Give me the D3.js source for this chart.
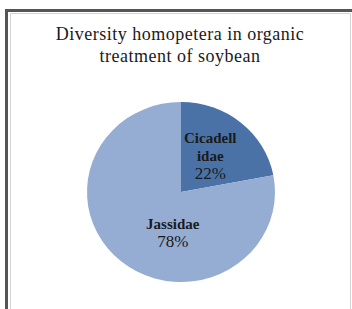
<!DOCTYPE html>
<html>
<head>
<meta charset="utf-8">
<script src="https://cdn.jsdelivr.net/npm/d3@7"></script>
<style>
  body { margin: 0; background: #fff; }
  svg { display: block; }
  text { font-family: "Liberation Serif", "Times New Roman", serif; fill: #1a1a1a; }
</style>
</head>
<body>
<div id="chart"></div>
<script>
const titleLines = ["Diversity homopetera in organic", "treatment of soybean"];
const families = ["Cicadell\nidae", "Jassidae"];
const shares = [22, 78];
const colors = ["#4a72a6", "#95acd3"];

const width = 352, height = 309;
const cx = 181, cy = 192;
const rx = 94, ry = 90;

const svg = d3.select("#chart").append("svg")
    .attr("width", width)
    .attr("height", height);

// frame
svg.append("path")
    .attr("d", "M6.5,309 V10.5 H352")
    .attr("fill", "none")
    .attr("stroke", "#555")
    .attr("stroke-width", 3);
svg.append("path")
    .attr("d", "M10.5,309 V13.5 H350.5 V309")
    .attr("fill", "none")
    .attr("stroke", "#d4d4d4")
    .attr("stroke-width", 1);

// title
svg.append("text")
    .attr("x", 180)
    .attr("y", 40)
    .attr("text-anchor", "middle")
    .attr("font-size", 18)
    .attr("letter-spacing", 0.5)
    .selectAll("tspan")
    .data(titleLines)
    .join("tspan")
    .attr("x", 180)
    .attr("dy", (d, i) => i ? 22 : 0)
    .text(d => d);

const pie = d3.pie().sort(null).value(d => d);
const arcs = pie(shares);

const arc = d3.arc().innerRadius(0).outerRadius(ry);
const labelArc = d3.arc().innerRadius(50).outerRadius(50);

const g = svg.append("g")
    .attr("transform", `translate(${cx},${cy}) scale(${rx / ry},1)`);

g.selectAll("path")
    .data(arcs)
    .join("path")
    .attr("d", arc)
    .attr("fill", (d, i) => colors[i]);

// labels (drawn unscaled)
const lg = svg.append("g").attr("transform", `translate(${cx},${cy})`);
const nudge = [[-4, 3], [25, 2]];

arcs.forEach((a, i) => {
    const [x, y] = labelArc.centroid(a);
    const px = x * rx / ry + nudge[i][0];
    const lines = families[i].split("\n").concat([shares[i] + "%"]);
    const t = lg.append("text")
        .attr("text-anchor", "middle");
    t.selectAll("tspan")
        .data(lines)
        .join("tspan")
        .attr("x", px)
        .attr("y", (d, j) => y + nudge[i][1] + (j - (lines.length - 1) / 2) * 18 + 5)
        .attr("font-size", (d, j) => j === lines.length - 1 ? 17 : 15)
        .attr("font-weight", (d, j) => j === lines.length - 1 ? "normal" : "bold")
        .text(d => d);
});
</script>
</body>
</html>
